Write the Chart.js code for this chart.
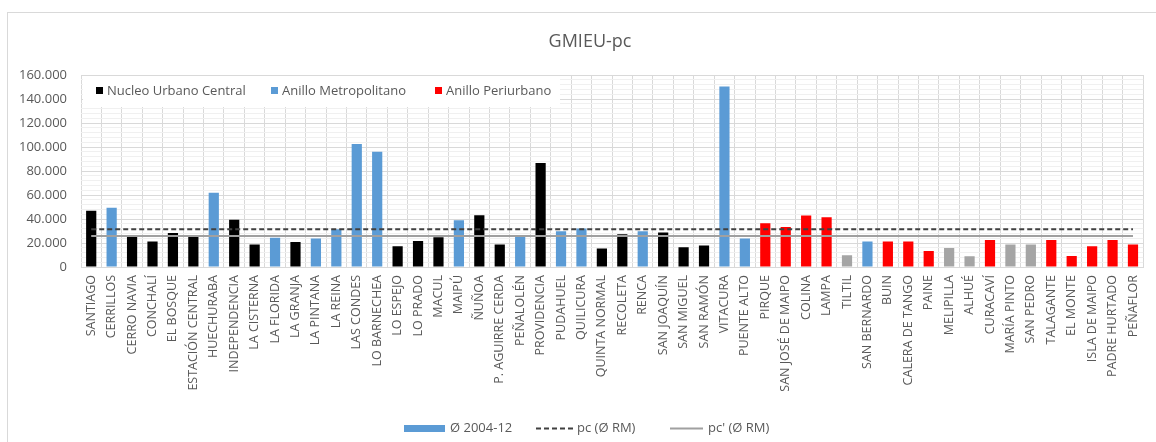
<!DOCTYPE html>
<html>
<head>
<meta charset="utf-8">
<script src="https://cdn.jsdelivr.net/npm/chart.js@4/dist/chart.umd.min.js"></script>
<style>
  html, body { margin: 0; padding: 0; background: #ffffff; }
  #wrap { width: 1156px; height: 442px; position: relative; }
</style>
</head>
<body>
<div id="wrap"><canvas id="c" width="1156" height="442"></canvas></div>
<script>
const categories = ["SANTIAGO","CERRILLOS","CERRO NAVIA","CONCHALÍ","EL BOSQUE","ESTACIÓN CENTRAL","HUECHURABA","INDEPENDENCIA","LA CISTERNA","LA FLORIDA","LA GRANJA","LA PINTANA","LA REINA","LAS CONDES","LO BARNECHEA","LO ESPEJO","LO PRADO","MACUL","MAIPÚ","ÑUÑOA","P. AGUIRRE CERDA","PEÑALOLÉN","PROVIDENCIA","PUDAHUEL","QUILICURA","QUINTA NORMAL","RECOLETA","RENCA","SAN JOAQUÍN","SAN MIGUEL","SAN RAMÓN","VITACURA","PUENTE ALTO","PIRQUE","SAN JOSÉ DE MAIPO","COLINA","LAMPA","TILTIL","SAN BERNARDO","BUIN","CALERA DE TANGO","PAINE","MELIPILLA","ALHUÉ","CURACAVÍ","MARÍA PINTO","SAN PEDRO","TALAGANTE","EL MONTE","ISLA DE MAIPO","PADRE HURTADO","PEÑAFLOR"];

const avg2004_12 = [46800,49300,25100,21200,28400,25100,61900,39300,18700,24300,20900,23700,31500,102600,96100,17300,21700,24800,39000,43200,18700,25700,86700,29800,32100,15400,27300,29800,28700,16500,17900,150500,23700,36500,33400,43000,41500,9800,21200,21200,21200,13400,15900,8900,22600,18700,18700,22600,9200,17300,22600,18700];

// N = Nucleo Urbano Central, M = Anillo Metropolitano, P = Anillo Periurbano, R = other (grey)
const groups = ["N","M","N","N","N","N","M","N","N","M","N","M","M","M","M","N","N","N","M","N","N","M","N","M","M","N","N","M","N","N","N","M","M","P","P","P","P","R","M","P","P","P","R","R","P","R","R","P","P","P","P","P"];

const pcRM = 31500;
const pcPrimeRM = 25900;

const yTicks = [0,20000,40000,60000,80000,100000,120000,140000,160000];

const groupColors = { N: "#000000", M: "#5B9BD5", P: "#FF0000", R: "#A5A5A5" };
const groupLegend = [
  { label: "Nucleo Urbano Central", color: "#000000", x: 96 },
  { label: "Anillo Metropolitano", color: "#5B9BD5", x: 271 },
  { label: "Anillo Periurbano", color: "#FF0000", x: 435 }
];

const FONT = "'Open Sans', 'DejaVu Sans', sans-serif";
const TXT = "#595959";

const framePlugin = {
  id: "frame",
  beforeDraw(chart) {
    const ctx = chart.ctx;
    ctx.save();
    ctx.fillStyle = "#ffffff";
    ctx.fillRect(0, 0, chart.width, chart.height);
    ctx.strokeStyle = "#d9d9d9";
    ctx.lineWidth = 1;
    ctx.strokeRect(7.5, 12.5, chart.width + 10, chart.height + 10);
    ctx.fillStyle = TXT;
    ctx.font = "18px " + FONT;
    ctx.textAlign = "center";
    ctx.textBaseline = "middle";
    ctx.fillText("GMIEU-pc", 590, 42);
    ctx.restore();
  },
  beforeDatasetsDraw(chart) {
    const ctx = chart.ctx;
    ctx.save();
    ctx.fillStyle = "#ffffff";
    ctx.fillRect(83, 76, 477, 31);
    ctx.font = "13px " + FONT;
    ctx.textBaseline = "middle";
    ctx.textAlign = "left";
    groupLegend.forEach(g => {
      ctx.fillStyle = g.color;
      ctx.fillRect(g.x, 87, 7, 7);
      ctx.fillStyle = TXT;
      ctx.fillText(g.label, g.x + 11, 91);
    });
    ctx.restore();
  },
  afterDraw(chart) {
    const ctx = chart.ctx;
    const y = 428;
    ctx.save();
    ctx.font = "13px " + FONT;
    ctx.textBaseline = "middle";
    ctx.textAlign = "left";
    ctx.fillStyle = "#5B9BD5";
    ctx.fillRect(404, y - 3, 41, 7);
    ctx.fillStyle = TXT;
    ctx.fillText(chart.data.datasets[0].label, 450, y);
    ctx.strokeStyle = "#404040";
    ctx.lineWidth = 2;
    ctx.setLineDash([5, 3]);
    ctx.beginPath(); ctx.moveTo(536, y + 0.5); ctx.lineTo(573, y + 0.5); ctx.stroke();
    ctx.fillText(chart.data.datasets[1].label, 577, y);
    ctx.setLineDash([]);
    ctx.strokeStyle = "#A0A0A0";
    ctx.beginPath(); ctx.moveTo(670, y + 0.5); ctx.lineTo(703, y + 0.5); ctx.stroke();
    ctx.fillText(chart.data.datasets[2].label, 708, y);
    ctx.restore();
  }
};

new Chart(document.getElementById("c"), {
  type: "bar",
  data: {
    labels: categories,
    datasets: [
      {
        type: "bar",
        label: "Ø 2004-12",
        data: avg2004_12,
        backgroundColor: groups.map(g => groupColors[g]),
        borderWidth: 0,
        barPercentage: 0.5,
        categoryPercentage: 1.0,
        order: 2
      },
      {
        type: "line",
        label: "pc (Ø RM)",
        data: categories.map(() => pcRM),
        borderColor: "#404040",
        borderWidth: 2,
        borderDash: [5, 3],
        pointRadius: 0,
        fill: false,
        order: 1
      },
      {
        type: "line",
        label: "pc' (Ø RM)",
        data: categories.map(() => pcPrimeRM),
        borderColor: "#A0A0A0",
        borderWidth: 2,
        pointRadius: 0,
        fill: false,
        order: 1
      }
    ]
  },
  options: {
    responsive: false,
    animation: false,
    devicePixelRatio: 1,
    layout: { padding: { left: 0, right: 2, top: 75, bottom: 40 } },
    plugins: {
      legend: { display: false },
      title: { display: false },
      tooltip: { enabled: false }
    },
    scales: {
      x: {
        grid: { color: "#d9d9d9", drawTicks: false, offset: true },
        border: { color: "#d9d9d9" },
        ticks: {
          autoSkip: false,
          minRotation: 90,
          maxRotation: 90,
          padding: 8,
          color: TXT,
          font: { family: FONT, size: 12.5 }
        },
        afterFit(scale) { scale.height = 135; }
      },
      y: {
        min: 0,
        max: 160000,
        afterBuildTicks(scale) {
          const t = [];
          for (let v = 0; v <= 160000; v += 4000) t.push({ value: v });
          scale.ticks = t;
        },
        grid: {
          drawTicks: false,
          color: ctx => (yTicks.includes(ctx.tick.value) ? "#d9d9d9" : "#f0f0f0")
        },
        border: { display: false },
        ticks: {
          autoSkip: false,
          padding: 14,
          color: TXT,
          font: { family: FONT, size: 13 },
          callback: v => (yTicks.includes(v) ? v.toLocaleString("de-DE") : "")
        },
        afterFit(scale) { scale.width = 81; }
      }
    }
  },
  plugins: [framePlugin]
});
</script>
</body>
</html>
